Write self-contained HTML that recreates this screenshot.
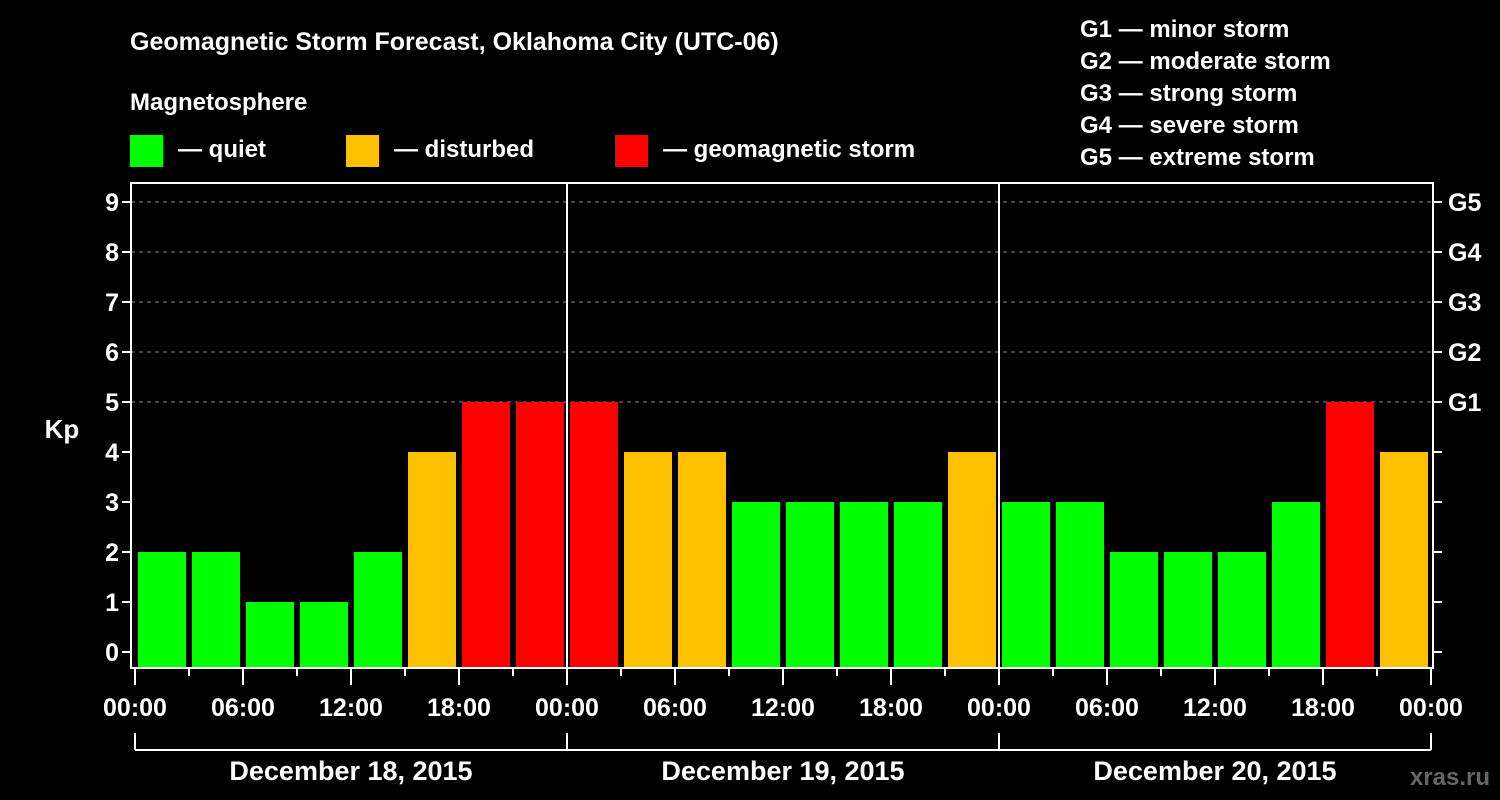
<!DOCTYPE html>
<html><head><meta charset="utf-8"><style>
body{margin:0;background:#000;}
svg{display:block;font-family:"Liberation Sans",Arial,sans-serif;font-weight:bold;}
</style></head><body>
<svg id="chart" width="1500" height="800" viewBox="0 0 1500 800">
<rect x="0" y="0" width="1500" height="800" fill="#000"/>
<text x="130" y="50" fill="#fff" font-size="25">Geomagnetic Storm Forecast, Oklahoma City (UTC-06)</text>
<text x="130" y="110" fill="#fff" font-size="24">Magnetosphere</text>
<g><rect x="130" y="135" width="33" height="32" fill="#00ff00"/><text x="178" y="157" fill="#fff" font-size="24">— quiet</text></g>
<g><rect x="346" y="135" width="33" height="32" fill="#ffc000"/><text x="394" y="157" fill="#fff" font-size="24">— disturbed</text></g>
<g><rect x="615" y="135" width="33" height="32" fill="#ff0000"/><text x="663" y="157" fill="#fff" font-size="24">— geomagnetic storm</text></g>
<g fill="#fff" font-size="24">
<text x="1080" y="37">G1 — minor storm</text>
<text x="1080" y="69">G2 — moderate storm</text>
<text x="1080" y="101">G3 — strong storm</text>
<text x="1080" y="133">G4 — severe storm</text>
<text x="1080" y="165">G5 — extreme storm</text>
</g>
<g id="plot"></g>
<text x="62" y="438" fill="#fff" font-size="26" text-anchor="middle">Kp</text>
<text x="1490" y="785" fill="#666" font-size="24" text-anchor="end">xras.ru</text>
</svg>
<script>
const days = ["December 18, 2015","December 19, 2015","December 20, 2015"];
const kpValues = [2,2,1,1,2,4,5,5, 5,4,4,3,3,3,3,4, 3,3,2,2,2,3,5,4];
const yTicks = [0,1,2,3,4,5,6,7,8,9];
const gLabels = ["G1","G2","G3","G4","G5"];
const xLabels = ["00:00","06:00","12:00","18:00"];

const NS="http://www.w3.org/2000/svg";
const g=document.getElementById('plot');
const L=131,R=1433,T=183,B=668;
const x0=135, dayW=432;
const y=v=>652-v*50;
const xt=h=>x0+h*dayW/24;
function mk(tag,attrs,parent){const e=document.createElementNS(NS,tag);for(const k in attrs)e.setAttribute(k,attrs[k]);(parent||g).appendChild(e);return e;}
function color(v){return v>=5?"#ff0000":v>=4?"#ffc000":"#00ff00";}

// grid lines at G levels
gLabels.forEach((lab,i)=>{
  const l=mk('line',{x1:L,x2:R,y1:y(5+i),y2:y(5+i),stroke:"#888","stroke-dasharray":"4,4","stroke-width":1});
  
  
  const t=mk('text',{x:1448,y:y(5+i)+9,fill:"#fff","font-size":25});
  t.textContent=lab;
  
  
});
// bars
kpValues.forEach((v,i)=>{
  const bx=xt(i*3)+3, bw=dayW/8-6;
  const r=mk('rect',{x:bx,y:y(v),width:bw,height:B-1-y(v),fill:color(v)});
  
  
});
// day separators
for(let d=1;d<days.length;d++){
  const l=mk('line',{x1:xt(24*d),x2:xt(24*d),y1:T,y2:B,stroke:"#fff","stroke-width":2});
  
  
}
// frame
const fr=mk('rect',{x:L,y:T,width:R-L,height:B-T,fill:"none",stroke:"#fff","stroke-width":2});


// y ticks
yTicks.forEach(v=>{
  mk('line',{x1:L-9,x2:L,y1:y(v),y2:y(v),stroke:"#fff","stroke-width":2});
  mk('line',{x1:R,x2:R+9,y1:y(v),y2:y(v),stroke:"#fff","stroke-width":2});
  const t=mk('text',{x:L-12,y:y(v)+9,fill:"#fff","font-size":25,"text-anchor":"end"});
  t.textContent=v;
  
  
});
// x ticks
for(let h=0;h<=24*days.length;h+=3){
  const major=h%6===0;
  mk('line',{x1:xt(h),x2:xt(h),y1:B,y2:major?B+17:B+8,stroke:"#fff","stroke-width":2});
}
for(let d=0;d<=days.length;d++){
  const labs = d<days.length?xLabels:["00:00"];
  labs.forEach((lab,j)=>{
    if(d===days.length&&j>0)return;
    const t=mk('text',{x:xt(24*d+6*j),y:716,fill:"#fff","font-size":25,"text-anchor":"middle"});
    t.textContent=lab;
    
    
  });
  mk('line',{x1:xt(24*d),x2:xt(24*d),y1:733,y2:750,stroke:"#fff","stroke-width":2});
}
mk('line',{x1:xt(0),x2:xt(24*days.length),y1:750,y2:750,stroke:"#fff","stroke-width":2});
days.forEach((dl,d)=>{
  const t=mk('text',{x:xt(24*d+12),y:780,fill:"#fff","font-size":27,"text-anchor":"middle"});
  t.textContent=dl;
  
  
});
</script>
</body></html>
